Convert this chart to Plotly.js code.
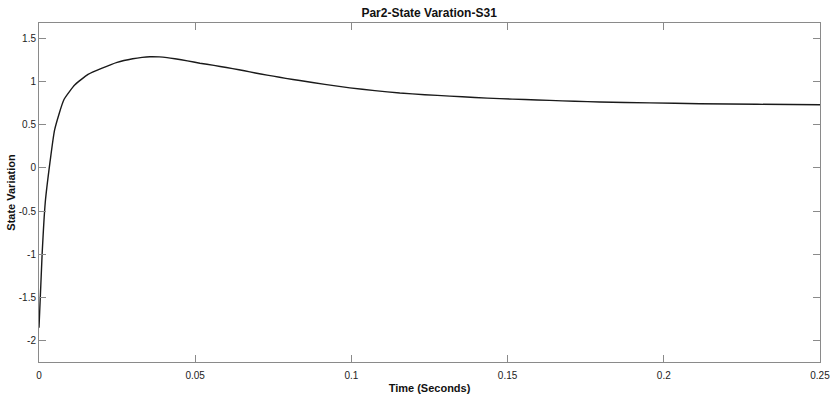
<!DOCTYPE html>
<html>
<head>
<meta charset="utf-8">
<script src="https://cdn.plot.ly/plotly-3.0.1.min.js"></script>
<style>html,body{margin:0;padding:0;background:#fff;}#chart{width:830px;height:404px;}</style>
</head>
<body>
<div id="chart"></div>
<script>
const timeSec = [0, 0.001, 0.002, 0.0035, 0.005, 0.008, 0.0115, 0.0157, 0.02, 0.025, 0.03, 0.033, 0.0355, 0.0385, 0.041, 0.0435, 0.0475, 0.0515, 0.056, 0.06, 0.064, 0.0675, 0.071, 0.075, 0.079, 0.0835, 0.0915, 0.0995, 0.1075, 0.1155, 0.1235, 0.1315, 0.1395, 0.1475, 0.1555, 0.1635, 0.1715, 0.1795, 0.1955, 0.2115, 0.23, 0.25];
const stateVar = [-1.85, -1.0, -0.4, 0.06, 0.44, 0.79, 0.96, 1.08, 1.15, 1.22, 1.262, 1.278, 1.285, 1.283, 1.275, 1.262, 1.237, 1.21, 1.185, 1.16, 1.135, 1.11, 1.085, 1.06, 1.035, 1.01, 0.965, 0.925, 0.893, 0.865, 0.846, 0.83, 0.814, 0.80, 0.79, 0.78, 0.77, 0.762, 0.751, 0.742, 0.735, 0.73];
const xTickVals = [0, 0.05, 0.1, 0.15, 0.2, 0.25];
const xTickText = ["0", "0.05", "0.1", "0.15", "0.2", "0.25"];
const yTickVals = [-2, -1.5, -1, -0.5, 0, 0.5, 1, 1.5];
const yTickText = ["-2", "-1.5", "-1", "-0.5", "0", "0.5", "1", "1.5"];

const narrow = '"Liberation Sans Narrow", "Arial Narrow", "Liberation Sans", Arial, sans-serif';
const tickFont = {family: narrow, size: 10, color: '#222'};

const trace = {
  x: timeSec, y: stateVar, type: 'scatter', mode: 'lines',
  line: {color: '#1a1a1a', width: 1.4, shape: 'spline', smoothing: 0.5},
  hoverinfo: 'skip', cliponaxis: false
};

const axisCommon = {
  showgrid: false, zeroline: false, showline: true, mirror: 'ticks',
  linecolor: '#8a8a8a', linewidth: 1,
  ticks: 'inside', ticklen: 7, tickcolor: '#8a8a8a', tickwidth: 1,
  tickfont: tickFont, tickmode: 'array', ticklabeloverflow: 'allow'
};

const layout = {
  width: 830, height: 404,
  margin: {l: 39, r: 10, t: 23, b: 42},
  paper_bgcolor: '#fff', plot_bgcolor: '#fff',
  showlegend: false,
  title: {
    text: '<b>Par2-State Varation-S31</b>',
    font: {family: narrow, size: 12, color: '#111'},
    x: 0.517, xanchor: 'center', y: 0.968, yanchor: 'middle'
  },
  xaxis: Object.assign({}, axisCommon, {
    range: [0, 0.25],
    tickvals: xTickVals, ticktext: xTickText,
    ticklabelstandoff: 4,
    title: {text: '<b>Time (Seconds)</b>', standoff: 4,
      font: {family: narrow, size: 11, color: '#111'}}
  }),
  yaxis: Object.assign({}, axisCommon, {
    range: [-2.245, 1.675],
    tickvals: yTickVals, ticktext: yTickText,
    title: {text: '<b>State Variation</b>', standoff: 0,
      font: {family: '"Liberation Sans", Arial, sans-serif', size: 11, color: '#111'}}
  })
};

Plotly.newPlot('chart', [trace], layout, {displayModeBar: false, staticPlot: true});
</script>
</body>
</html>
